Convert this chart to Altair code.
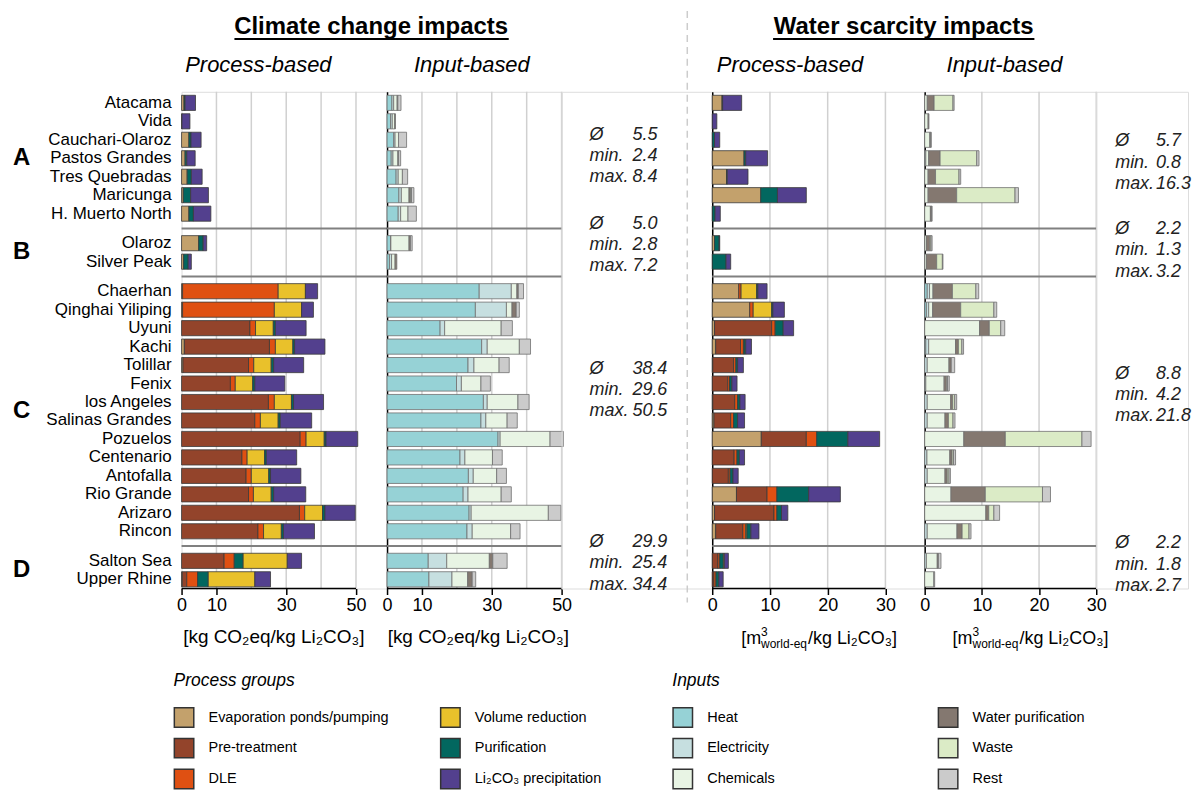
import altair as alt
import pandas as pd

# ---------------- data ----------------
sites = ["Atacama", "Vida", "Cauchari-Olaroz", "Pastos Grandes", "Tres Quebradas", "Maricunga",
         "H. Muerto North", "Olaroz", "Silver Peak", "Chaerhan", "Qinghai Yiliping", "Uyuni",
         "Kachi", "Tolillar", "Fenix", "los Angeles", "Salinas Grandes", "Pozuelos", "Centenario",
         "Antofalla", "Rio Grande", "Arizaro", "Rincon", "Salton Sea", "Upper Rhine"]
site_group = ["A"] * 7 + ["B"] * 2 + ["C"] * 14 + ["D"] * 2
group_letters = ["A", "B", "C", "D"]

process_names = ["Evaporation ponds/pumping", "Pre-treatment", "DLE", "Volume reduction",
                 "Purification", "Li₂CO₃ precipitation"]
process_colors = ["#c3a16c", "#93442b", "#df5012", "#e9c12b", "#02675f", "#53408e"]
input_names = ["Heat", "Electricity", "Chemicals", "Water purification", "Waste", "Rest"]
input_colors = ["#96d2d6", "#c6dfe0", "#e8f4e4", "#847870", "#dbebc6", "#cbcbcb"]

# Climate change, process-based [kg CO2eq/kg Li2CO3]
cc_evap = [0.7, 0.1, 2.1, 1.0, 1.6, 0.5, 2.1, 4.9, 0.6, 0.3, 0.3, 0, 0.8, 0.4, 0, 0, 0, 0, 0, 0, 0, 0, 0, 0, 0.2]
cc_pre = [0, 0, 0, 0, 0, 0, 0, 0, 0, 0, 0, 19.6, 24.4, 18.8, 14.0, 24.9, 21.0, 34.0, 17.3, 18.5, 19.2, 33.8, 21.9, 12.2, 1.3]
cc_dle = [0, 0, 0, 0, 0, 0, 0, 0, 0, 27.4, 26.3, 1.6, 1.7, 1.5, 1.4, 1.7, 1.6, 1.7, 1.5, 1.5, 1.4, 1.5, 1.6, 2.9, 3.1]
cc_vol = [0, 0, 0, 0, 0, 0, 0, 0, 0, 7.8, 7.8, 5.1, 5.0, 5.0, 5.0, 4.9, 5.1, 5.2, 5.0, 5.0, 5.1, 5.1, 5.1, 12.7, 13.4]
cc_pur = [0.3, 0, 0.6, 0.5, 1.2, 2.1, 1.3, 1.3, 1.3, 0, 0, 0.6, 0.5, 0.7, 0.6, 0.6, 0.6, 0.5, 0.5, 0.5, 0.7, 0.7, 0.6, 2.5, 3.0]
cc_li = [3.0, 2.3, 2.9, 2.4, 3.1, 5.1, 5.0, 1.0, 0.9, 3.5, 3.4, 8.8, 8.7, 8.6, 8.6, 8.6, 9.0, 9.1, 8.7, 8.7, 9.2, 8.7, 8.9, 4.1, 4.5]

# Climate change, input-based
cc_heat = [1.4, 1.0, 1.9, 1.2, 2.6, 3.4, 3.2, 1.0, 0.7, 26.4, 25.3, 15.2, 27.1, 23.2, 19.9, 27.6, 26.9, 31.8, 20.9, 23.3, 21.8, 23.5, 22.9, 11.8, 12.0]
cc_elec = [0.5, 0.5, 0.4, 0.5, 0.6, 0.7, 0.7, 0.1, 0.6, 9.2, 8.9, 1.3, 1.6, 1.7, 1.4, 1.1, 1.4, 0.6, 1.4, 1.4, 1.4, 0.6, 1.5, 5.3, 6.6]
cc_chem = [1.0, 0.7, 1.0, 1.4, 1.2, 2.2, 2.1, 5.2, 1.0, 1.6, 1.6, 16.2, 9.2, 7.2, 5.6, 8.8, 6.1, 14.3, 7.9, 6.7, 9.5, 22.1, 11.0, 12.2, 4.5]
cc_water = [0.2, 0.2, 0, 0.2, 0, 0.4, 0, 0.4, 0.5, 0.4, 1.2, 0, 0, 0, 0, 0, 0, 0, 0, 0, 0, 0, 0, 1.0, 1.3]
cc_waste = [0, 0, 0, 0, 0, 0.3, 0, 0, 0, 0, 0, 0, 0, 0, 0, 0, 0, 0, 0, 0, 0, 0, 0, 0, 0]
cc_rest = [0.9, 0, 2.3, 0.6, 1.5, 0.7, 2.4, 0.5, 0, 1.5, 0.9, 3.2, 3.2, 2.9, 2.7, 3.2, 2.9, 3.8, 2.8, 2.8, 2.9, 3.6, 2.7, 4.1, 1.0]

# Water scarcity, process-based [m3 world-eq/kg Li2CO3]
ws_evap = [1.7, 0, 0, 5.5, 2.5, 8.4, 0, 0.4, 0, 4.6, 6.5, 0.4, 0.6, 0.1, 0, 0.1, 0.3, 8.5, 0, 0, 4.2, 0.4, 0.6, 0, 0]
ws_pre = [0, 0, 0, 0, 0, 0, 0, 0, 0, 0, 0, 9.9, 4.3, 3.6, 2.7, 3.8, 2.9, 7.8, 3.8, 2.8, 5.3, 10.3, 4.7, 1.0, 0.3]
ws_dle = [0, 0, 0, 0, 0, 0, 0, 0, 0, 0.4, 0.6, 0.6, 0.5, 0.4, 0.3, 0.5, 0.5, 1.8, 0.5, 0.3, 1.7, 0.5, 0.5, 0.3, 0.35]
ws_vol = [0, 0, 0, 0, 0, 0, 0, 0, 0, 2.7, 3.2, 0, 0.1, 0, 0, 0, 0, 0, 0, 0, 0, 0, 0.2, 0.2, 0]
ws_pur = [0.1, 0, 0.4, 0.3, 0.1, 2.9, 0.5, 0.8, 2.4, 0.2, 0.2, 1.4, 0.3, 0.3, 0.4, 0.4, 0.7, 5.4, 0.4, 0.5, 5.5, 0.8, 0.7, 0.6, 0.5]
ws_li = [3.3, 0.8, 0.9, 3.8, 3.6, 5.0, 0.9, 0.1, 0.8, 1.6, 2.0, 1.8, 1.0, 1.0, 0.9, 0.9, 1.2, 5.5, 0.9, 0.9, 5.5, 1.1, 1.4, 0.7, 0.75]

# Water scarcity, input-based
ws_heat = [0, 0, 0, 0, 0, 0, 0, 0, 0, 0.45, 0.3, 0, 0.2, 0, 0, 0, 0, 0, 0, 0, 0, 0, 0, 0, 0]
ws_elec = [0, 0, 0, 0.2, 0, 0, 0, 0, 0, 0.4, 0.4, 0, 0.5, 0.45, 0.2, 0.45, 0.45, 0, 0.4, 0.45, 0, 0, 0.45, 0.3, 0]
ws_chem = [0.45, 0.6, 0.9, 0.5, 0.6, 0.6, 1.0, 0.3, 0.3, 0.6, 0.7, 9.6, 4.7, 3.8, 3.2, 4.1, 3.1, 6.85, 4.0, 3.1, 4.6, 10.7, 5.2, 1.9, 1.6]
ws_water = [1.2, 0.15, 0.15, 2.0, 1.3, 5.0, 0.2, 0.6, 1.8, 3.4, 4.9, 1.7, 0.5, 0.4, 0.4, 0.35, 0.6, 7.25, 0.4, 0.4, 6.0, 0.5, 0.9, 0.2, 0]
ws_waste = [3.3, 0, 0, 6.4, 4.1, 10.2, 0, 0.2, 1.0, 4.1, 5.8, 2.0, 0.6, 0, 0.2, 0.35, 0.8, 13.4, 0.25, 0.3, 10.0, 0.9, 1.2, 0, 0]
ws_rest = [0.2, 0, 0.1, 0.4, 0.3, 0.6, 0.1, 0.2, 0.1, 0.5, 0.5, 0.7, 0.3, 0.6, 0.3, 0.35, 0.35, 1.6, 0.35, 0.25, 1.4, 1.0, 0.35, 0.45, 0.15]

# group statistics printed beside the panels
stat_labels = ["Ø", "min.", "max."]
cc_stats = [["5.5", "2.4", "8.4"], ["5.0", "2.8", "7.2"], ["38.4", "29.6", "50.5"], ["29.9", "25.4", "34.4"]]
ws_stats = [["5.7", "0.8", "16.3"], ["2.2", "1.3", "3.2"], ["8.8", "4.2", "21.8"], ["2.2", "1.8", "2.7"]]
cc_stat_mid = [2.87, 7.70, 15.54, 24.94]
ws_stat_mid = [3.24, 7.99, 15.82, 25.0]

# ---------------- layout helpers ----------------
GAP = 0.6
pos = []
k, prev = -1, None
for i, g in enumerate(site_group):
    if g != prev:
        k += 1
        prev = g
    pos.append(i + k * GAP)

H = 498
Y_DOM = [-0.6, 26.3]
ys = alt.Scale(domain=Y_DOM, reverse=True, nice=False, zero=False)

group_first = {g: site_group.index(g) for g in group_letters}
group_last = {g: len(site_group) - 1 - site_group[::-1].index(g) for g in group_letters}
group_center = [(pos[group_first[g]] + pos[group_last[g]]) / 2 for g in group_letters]
seps = [(pos[group_last[group_letters[j]]] + pos[group_first[group_letters[j + 1]]]) / 2 for j in range(3)]

FONT = "Liberation Sans"


def long_df(arrays, names, kind):
    rows = []
    for si, s in enumerate(sites):
        order = list(range(len(names)))
        if kind == "process" and site_group[si] == "D":
            order = [0, 1, 2, 4, 3, 5]
        for ci, name in enumerate(names):
            v = arrays[ci][si]
            if v > 0:
                rows.append({"site": s, "pos": pos[si], "cat": name, "value": v, "ord": order[ci]})
    return pd.DataFrame(rows)


def panel(df, width, xmax, xvalues, gridvalues, axis_end, cscale, legend, stroke, xtitle):
    xs = alt.Scale(domain=[0, xmax], nice=False, zero=True)
    xaxis = alt.Axis(values=xvalues, grid=False, domain=False, ticks=True, tickColor="black",
                     tickWidth=1.5, tickSize=6, labelFontSize=18, labelColor="black", labelFont=FONT,
                     labelPadding=2, labelFlush=False, labelOverlap=False,
                     title=xtitle[0] if xtitle else "",
                     titleFontSize=19, titleFontWeight="normal", titleColor="black", titleFont=FONT,
                     titleX=xtitle[1] if xtitle else 0, titleY=54, titleAlign="center",
                     titleBaseline="alphabetic")
    yaxis = alt.Axis(domain=True, labels=False, ticks=False, grid=False, title="",
                     domainColor="black", domainWidth=1.5)
    grid = alt.Chart(pd.DataFrame({"g": gridvalues})).mark_rule(color="#d0d0d0", strokeWidth=1.5).encode(
        x=alt.X("g:Q", scale=xs, axis=xaxis), y=alt.value(0), y2=alt.value(H))
    sep = alt.Chart(pd.DataFrame({"s": seps})).mark_rule(color="#808080", strokeWidth=2).encode(
        y=alt.Y("s:Q", scale=ys, axis=yaxis), x=alt.value(0), x2=alt.value(width))
    bars = alt.Chart(df).transform_stack(
        stack="value", groupby=["site"], sort=[alt.SortField("ord", order="ascending")], as_=["x0", "x1"]
    ).transform_calculate(
        y0="datum.pos - 0.41", y1="datum.pos + 0.41"
    ).mark_rect(stroke=stroke, strokeWidth=0.8).encode(
        x=alt.X("x0:Q", scale=xs, axis=xaxis),
        x2="x1:Q",
        y=alt.Y("y0:Q", scale=ys, axis=yaxis),
        y2="y1:Q",
        color=alt.Color("cat:N", scale=cscale, legend=legend),
    )
    axline = alt.Chart(pd.DataFrame({"a": [0], "b": [axis_end]})).mark_rule(
        color="black", strokeWidth=1.5).encode(x=alt.X("a:Q", scale=xs, axis=xaxis), x2="b:Q", y=alt.value(H))
    return [grid, sep, bars, axline]


def text_layer(txt, x, y, **kw):
    return alt.Chart(pd.DataFrame({"t": [txt]})).mark_text(font=FONT, color="black", **kw).encode(
        x=alt.value(x), y=alt.value(y), text="t:N")


# colour scales (legend lists entries column by column)
p_scale = alt.Scale(domain=process_names, range=process_colors)
i_scale = alt.Scale(domain=input_names, range=input_colors)

leg_common = dict(orient="none", columns=2, titleFontStyle="italic", titleFontWeight="normal",
                  titleFontSize=17.5, titleColor="black", titleFont=FONT, titlePadding=17,
                  labelFontSize=14.5, labelColor="black", labelFont=FONT, labelLimit=400,
                  symbolType="square", symbolSize=380, symbolStrokeColor="#333333",
                  symbolStrokeWidth=1.5, symbolOpacity=1, rowPadding=4, labelOffset=14)
p_legend = alt.Legend(title="Process groups", legendX=-8, legendY=582, columnPadding=48, **leg_common)
i_legend = alt.Legend(title="Inputs", legendX=286, legendY=582, columnPadding=160, **leg_common)

W1, W2, WA1, W3, W4, WA2 = 206, 175, 151, 213, 172, 92

cc_p = long_df([cc_evap, cc_pre, cc_dle, cc_vol, cc_pur, cc_li], process_names, "process")
cc_i = long_df([cc_heat, cc_elec, cc_chem, cc_water, cc_waste, cc_rest], input_names, "input")
ws_p = long_df([ws_evap, ws_pre, ws_dle, ws_vol, ws_pur, ws_li], process_names, "process")
ws_i = long_df([ws_heat, ws_elec, ws_chem, ws_water, ws_waste, ws_rest], input_names, "input")

cc_title = "[kg CO₂eq/kg Li₂CO₃]"

# ---- panel 1: climate, process-based (with row labels, group letters, main title)
site_df = pd.DataFrame({"site": sites, "pos": pos})
labels = alt.Chart(site_df).mark_text(align="right", baseline="middle", fontSize=17, font=FONT,
                                      color="black").encode(
    x=alt.value(-10), y=alt.Y("pos:Q", scale=ys, axis=None), text="site:N")
grp_df = pd.DataFrame({"g": group_letters, "c": group_center})
letters = alt.Chart(grp_df).mark_text(align="left", baseline="middle", fontSize=24, fontWeight="bold",
                                      font=FONT, color="black").encode(
    x=alt.value(-169), y=alt.Y("c:Q", scale=ys, axis=None), text="g:N")

p1_layers = panel(cc_p, W1, 58.9, [0, 10, 30, 50], [10, 20, 30, 40, 50], 50, p_scale, p_legend,
                  "#3a3a3a", (cc_title, 92))
p1 = alt.layer(*p1_layers, labels, letters,
               text_layer("Climate change impacts", 190, -58, fontSize=24, fontWeight="bold",
                          align="center", baseline="alphabetic"),
               alt.Chart(pd.DataFrame({"t": [0]})).mark_rule(color="black", strokeWidth=2).encode(
                   x=alt.value(53), x2=alt.value(328), y=alt.value(-53)),
               text_layer("Process-based", 77, -27, fontSize=22, fontStyle="italic", align="center",
                          baseline="middle"),
               ).properties(width=W1, height=H)

p2_layers = panel(cc_i, W2, 50, [0, 10, 30, 50], [10, 20, 30, 40, 50], 50, i_scale, i_legend,
                  "#707070", (cc_title, 91))
p2 = alt.layer(*p2_layers,
               text_layer("Input-based", 85, -27, fontSize=22, fontStyle="italic", align="center",
                          baseline="middle"),
               ).properties(width=W2, height=H)


def stat_panel(stats, mids, width, xl, xv, dash=None):
    rows = []
    for gi in range(4):
        for li in range(3):
            rows.append({"lab": stat_labels[li], "val": stats[gi][li], "y": mids[gi] + (li - 1) * 1.15})
    sdf = pd.DataFrame(rows)
    lab = alt.Chart(sdf).mark_text(align="left", baseline="middle", fontSize=18, fontStyle="italic",
                                   font=FONT, color="#222222").encode(
        x=alt.value(xl), y=alt.Y("y:Q", scale=ys, axis=None), text="lab:N")
    val = alt.Chart(sdf).mark_text(align="left", baseline="middle", fontSize=18, fontStyle="italic",
                                   font=FONT, color="#222222").encode(
        x=alt.value(xv), y=alt.Y("y:Q", scale=ys, axis=None), text="val:N")
    layers = [lab, val]
    if dash is not None:
        layers.append(alt.Chart(pd.DataFrame({"t": [0]})).mark_rule(
            color="#cccccc", strokeWidth=1.5, strokeDash=[7, 5]).encode(
            x=alt.value(dash), y=alt.value(-81), y2=alt.value(512)))
    return alt.layer(*layers).properties(width=width, height=H)


a1 = stat_panel(cc_stats, cc_stat_mid, WA1, 28, 71, dash=126)


def water_title(x0):
    base = 554
    return [
        text_layer("[m", x0, base, fontSize=18, align="left", baseline="alphabetic"),
        text_layer("3", x0 + 20, base - 8, fontSize=12, align="left", baseline="alphabetic"),
        text_layer("world-eq", x0 + 20, base + 4, fontSize=12, align="left", baseline="alphabetic"),
        text_layer("/kg Li₂CO₃]", x0 + 67, base, fontSize=18, align="left", baseline="alphabetic"),
    ]


p3_layers = panel(ws_p, W3, 36.8, [0, 10, 20, 30], [10, 20, 30], 30, p_scale, None, "#3a3a3a", None)
p3 = alt.layer(*p3_layers, *water_title(29),
               text_layer("Water scarcity impacts", 192, -58, fontSize=24, fontWeight="bold",
                          align="center", baseline="alphabetic"),
               alt.Chart(pd.DataFrame({"t": [0]})).mark_rule(color="black", strokeWidth=2).encode(
                   x=alt.value(61), x2=alt.value(323), y=alt.value(-53)),
               text_layer("Process-based", 78, -27, fontSize=22, fontStyle="italic", align="center",
                          baseline="middle"),
               ).properties(width=W3, height=H)

p4_layers = panel(ws_i, W4, 30, [0, 10, 20, 30], [10, 20, 30], 30, i_scale, None, "#707070", None)
p4 = alt.layer(*p4_layers, *water_title(28),
               text_layer("Input-based", 80, -27, fontSize=22, fontStyle="italic", align="center",
                          baseline="middle"),
               ).properties(width=W4, height=H)

a2 = stat_panel(ws_stats, ws_stat_mid, WA2, 19, 60)

chart = alt.hconcat(p1, p2, a1, p3, p4, a2, spacing=0, bounds="flush").resolve_scale(
    color="independent", x="independent", y="independent"
).properties(
    padding={"left": 4, "top": 0, "right": 0, "bottom": 0}
).configure_view(stroke=None).configure(font=FONT)

chart.save("out.html", embed_options={"renderer": "svg", "actions": False})
